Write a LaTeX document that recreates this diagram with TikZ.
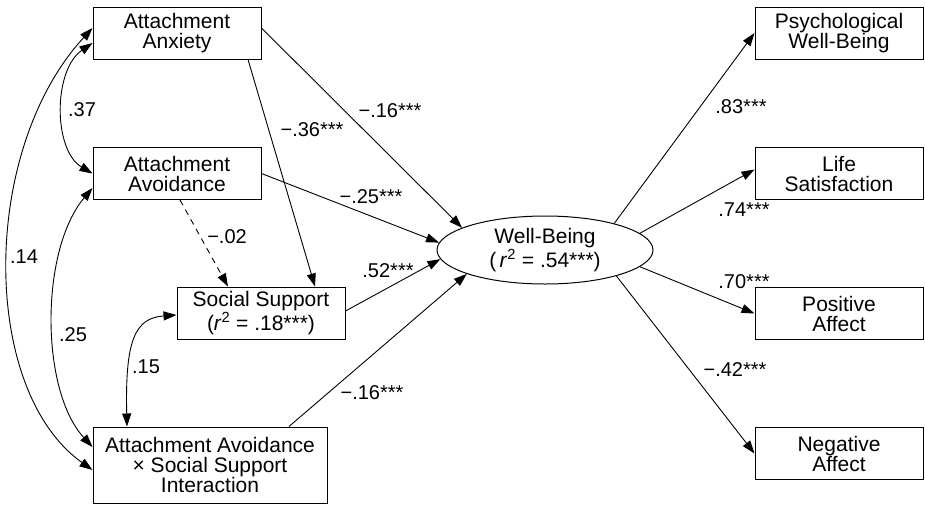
\documentclass[tikz,border=0pt]{standalone}
\usepackage{fontspec}
\setmainfont{Liberation Sans}
\usetikzlibrary{arrows.meta,shapes.geometric}
\begin{document}
\begin{tikzpicture}[x=1pt,y=-1pt,
  box/.style={draw,line width=1pt,minimum width=168pt,minimum height=52pt,align=center,inner sep=0pt,font=\fontsize{21}{20}\selectfont},
  lbl/.style={font=\fontsize{20}{20}\selectfont,inner sep=0pt},
  arr/.style={line width=0.9pt,-{Triangle[length=13pt,width=9pt]}},
  dbl/.style={line width=0.9pt,{Triangle[length=13pt,width=9pt]}-{Triangle[length=13pt,width=9pt]}}]
\useasboundingbox (0,0) rectangle (925,504);
% nodes
\node[box] (anx) at (177,33) {Attachment\\Anxiety};
\node[box] (avo) at (177,173.5) {Attachment\\Avoidance};
\node[box] (ss) at (261,313) {Social Support\\(\textit{r}\textsuperscript{2} = .18***)};
\node[box,minimum width=234pt,minimum height=76pt] (int) at (210,465) {Attachment Avoidance\\× Social Support\\Interaction};
\node[draw,ellipse,line width=1pt,minimum width=216pt,minimum height=68pt,inner sep=0pt,align=center,font=\fontsize{21}{20}\selectfont] (wb) at (545,250) {Well-Being\\(\,\textit{r}\textsuperscript{2} = .54***)};
\node[box] (psy) at (839,33) {Psychological\\Well-Being};
\node[box] (life) at (839,173.5) {Life\\Satisfaction};
\node[box] (pos) at (839,313.5) {Positive\\Affect};
\node[box] (neg) at (839,453.5) {Negative\\Affect};
% paths into well-being
\draw[arr] ([yshift=5pt]anx.east) -- (wb.165);
\draw[arr] ([xshift=71pt]anx.south) -- ([xshift=54pt]ss.north);
\draw[arr] (avo.east) -- (wb.176);
\draw[arr,dash pattern=on 6pt off 5pt] ([xshift=3pt]avo.south) -- ([xshift=-33pt]ss.north);
\draw[arr] ([yshift=2pt]ss.east) -- (wb.185);
\draw[arr] ([xshift=79pt]int.north) -- (wb.197);
% outcomes
\draw[arr] (wb.21) -- (psy.west);
\draw[arr] (wb.10.7) -- ([yshift=4pt]life.west);
\draw[arr] (wb.-10) -- (pos.west);
\draw[arr] (wb.-20.6) -- (neg.west);
% correlations
\draw[dbl] ([yshift=-10pt]anx.west) .. controls (53,70) and (53,150) .. (avo.west);
\draw[dbl] ([yshift=5pt]anx.west) .. controls (-20,150) and (-20,390) .. ([yshift=-5pt]int.west);
\draw[dbl] ([yshift=-14.5pt]avo.west) .. controls (40,250) and (40,390) .. ([yshift=18pt]int.west);
\draw[dbl] ([yshift=-2pt]ss.west) .. controls (135,318) and (125,340) .. ([xshift=-83pt]int.north);
% labels
\node[lbl] (l37) at (82,110) {.37};
\node[lbl] (l14) at (24,257) {.14};
\node[lbl] (l25) at (73,335) {.25};
\node[lbl] (l15) at (146,367) {.15};
\node[lbl] (l36) at (312,130) {−.36***};
\node[lbl] (l16a) at (390,111) {−.16***};
\node[lbl] (l25b) at (371,197) {−.25***};
\node[lbl] (l02) at (227,237) {−.02};
\node[lbl] (l52) at (388,271) {.52***};
\node[lbl] (l16b) at (372,393) {−.16***};
\node[lbl] (l83) at (741,107) {.83***};
\node[lbl] (l74) at (744,210) {.74***};
\node[lbl] (l70) at (744,282) {.70***};
\node[lbl] (l42) at (735,370) {−.42***};
\end{tikzpicture}
\end{document}
